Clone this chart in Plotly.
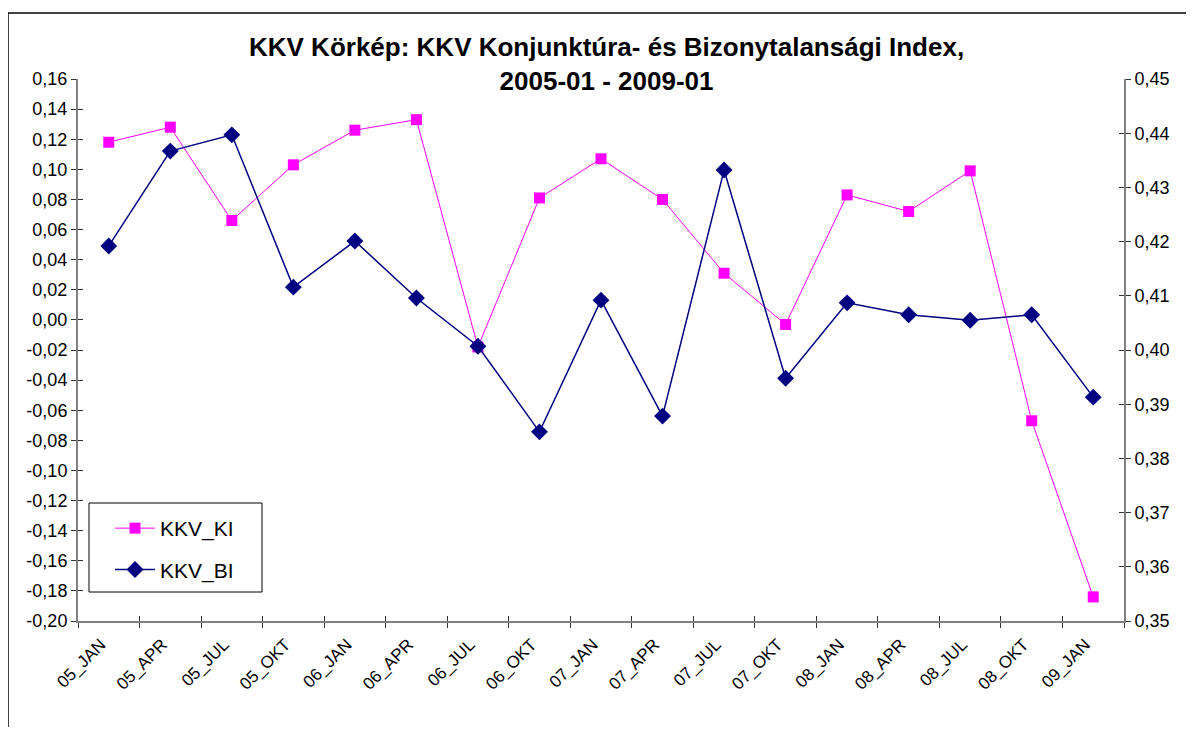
import plotly.graph_objects as go

categories = ["05_JAN", "05_APR", "05_JUL", "05_OKT", "06_JAN", "06_APR", "06_JUL", "06_OKT",
              "07_JAN", "07_APR", "07_JUL", "07_OKT", "08_JAN", "08_APR", "08_JUL", "08_OKT", "09_JAN"]
kkv_ki = [0.118, 0.128, 0.066, 0.103, 0.126, 0.133, -0.018, 0.081,
          0.107, 0.080, 0.031, -0.003, 0.083, 0.072, 0.099, -0.067, -0.184]
kkv_bi = [0.4192, 0.4367, 0.4397, 0.4116, 0.4201, 0.4096, 0.4007, 0.3849,
          0.4092, 0.3878, 0.4332, 0.3948, 0.4087, 0.4065, 0.4055, 0.4065, 0.3913]

left_ticks = [round(-0.20 + 0.02 * i, 2) for i in range(19)]
right_ticks = [round(0.35 + 0.01 * i, 2) for i in range(11)]

def fmt(v):
    return f"{v:.2f}".replace(".", ",")

font = "Liberation Sans, Arial, sans-serif"
axis_col = "#808080"
tick_col = "#333333"

fig = go.Figure()
fig.add_trace(go.Scatter(
    x=categories, y=kkv_ki, name="KKV_KI", mode="lines+markers",
    line=dict(color="#FF00FF", width=1),
    marker=dict(symbol="square", size=11, color="#FF00FF"),
    legendgroup="ki", xaxis="x", yaxis="y"))
fig.add_trace(go.Scatter(
    x=categories, y=kkv_bi, name="KKV_BI", mode="lines+markers",
    line=dict(color="#000080", width=1.5),
    marker=dict(symbol="diamond", size=13, color="#000080"),
    legendgroup="bi", xaxis="x", yaxis="y2"))

# dummy traces so that the inner-tick helper axes are drawn
fig.add_trace(go.Scatter(x=[None], y=[None], xaxis="x2", yaxis="y3",
                         showlegend=False, hoverinfo="skip"))
fig.add_trace(go.Scatter(x=[None], y=[None], xaxis="x2", yaxis="y4",
                         showlegend=False, hoverinfo="skip"))

n = len(categories)
bounds = [i - 0.5 for i in range(n + 1)]

fig.update_layout(
    width=1178, height=719,
    margin=dict(l=70, r=62, t=71, b=106),
    paper_bgcolor="white", plot_bgcolor="white",
    font=dict(family=font, size=18, color="black"),
    showlegend=True,
    legend=dict(x=0.0306, y=0.2085, xanchor="left", yanchor="top",
                bgcolor="rgba(0,0,0,0)", borderwidth=0,
                font=dict(size=21), itemwidth=40, tracegroupgap=11),
    xaxis=dict(type="category", range=[-0.5, n - 0.5], tickson="boundaries",
               ticks="outside", ticklen=5, tickcolor=tick_col,
               showline=True, linecolor=axis_col, linewidth=2,
               showgrid=False, tickangle=-45, tickfont=dict(size=17),
               ticklabelshift=-8, ticklabelstandoff=5),
    xaxis2=dict(range=[-0.5, n - 0.5], overlaying="x", anchor="y3", side="bottom",
                tickvals=bounds, showticklabels=False,
                ticks="inside", ticklen=5, tickcolor=tick_col,
                showline=False, showgrid=False, zeroline=False),
    yaxis=dict(range=[-0.20, 0.16], tickvals=left_ticks,
               ticktext=[fmt(v) for v in left_ticks],
               ticks="outside", ticklen=5, tickcolor=tick_col,
               showline=True, linecolor=axis_col, linewidth=2,
               showgrid=False, zeroline=False),
    yaxis2=dict(range=[0.35, 0.45], tickvals=right_ticks,
                ticktext=[fmt(v) for v in right_ticks],
                overlaying="y", side="right", anchor="x",
                ticks="outside", ticklen=5, tickcolor=tick_col,
                showline=True, linecolor=axis_col, linewidth=2,
                showgrid=False, zeroline=False),
    yaxis3=dict(range=[-0.20, 0.16], tickvals=left_ticks, showticklabels=False,
                overlaying="y", side="left", anchor="x2",
                ticks="inside", ticklen=5, tickcolor=tick_col,
                showline=False, showgrid=False, zeroline=False),
    yaxis4=dict(range=[0.35, 0.45], tickvals=right_ticks, showticklabels=False,
                overlaying="y", side="right", anchor="x2",
                ticks="inside", ticklen=5, tickcolor=tick_col,
                showline=False, showgrid=False, zeroline=False),
)

fig.add_annotation(
    text="<b>KKV Körkép: KKV Konjunktúra- és Bizonytalansági Index,<br>2005-01 - 2009-01</b>",
    xref="paper", yref="paper", x=0.5057, y=1.0277, xanchor="center", yanchor="middle",
    showarrow=False, font=dict(size=26, family=font, color="black"), align="center")

# legend box
fig.add_shape(type="rect", xref="paper", yref="paper",
              x0=11 / 1046, x1=184 / 1046, y0=1 - 513 / 542, y1=1 - 424 / 542,
              line=dict(color="black", width=1), fillcolor="white", layer="above")

# outer chart frame (left and top edges; the rest lies outside the view)
frame_x0 = -70 / 1046
frame_y1 = 1 + 66 / 542
fig.add_shape(type="line", xref="paper", yref="paper",
              x0=frame_x0, x1=frame_x0, y0=-0.5, y1=frame_y1,
              line=dict(color="black", width=1.5))
fig.add_shape(type="line", xref="paper", yref="paper",
              x0=frame_x0, x1=1.3, y0=frame_y1, y1=frame_y1,
              line=dict(color="black", width=1.5))

fig.write_html("out.html")
